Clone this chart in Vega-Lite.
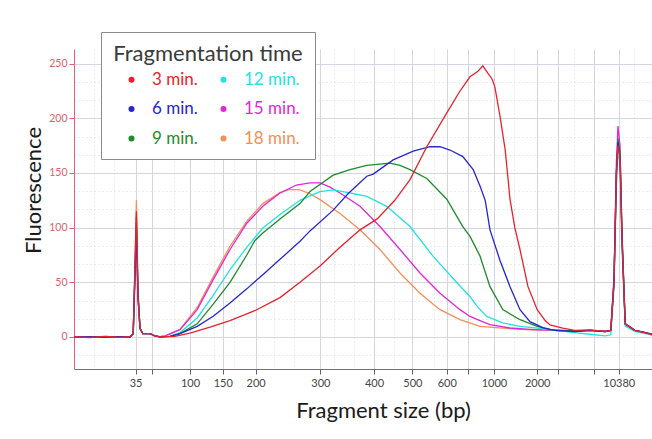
{
  "$schema": "https://vega.github.io/schema/vega-lite/v6.json",
  "width": 578,
  "height": 320,
  "autosize": "none",
  "padding": {"left": 74, "top": 49, "right": 0, "bottom": 70},
  "background": "white",
  "config": {"font": "Lato", "view": {"stroke": null}},
  "data": {"values": [
    {"s":"18 min.","t":40,"f":0.2},{"s":"18 min.","t":42,"f":-0.4},{"s":"18 min.","t":43.9,"f":0.5},{"s":"18 min.","t":45.8,"f":-0.2},{"s":"18 min.","t":47,"f":0.4},{"s":"18 min.","t":47.4,"f":3},{"s":"18 min.","t":47.6,"f":62},{"s":"18 min.","t":47.8,"f":125},{"s":"18 min.","t":48,"f":44},{"s":"18 min.","t":48.25,"f":8},{"s":"18 min.","t":48.6,"f":3},{"s":"18 min.","t":49.5,"f":3},{"s":"18 min.","t":50.1,"f":1},{"s":"18 min.","t":50.75,"f":0.2},{"s":"18 min.","t":51.4,"f":1},{"s":"18 min.","t":53.25,"f":7},{"s":"18 min.","t":55.4,"f":27},{"s":"18 min.","t":57.4,"f":55},{"s":"18 min.","t":59.5,"f":83},{"s":"18 min.","t":61.6,"f":106},{"s":"18 min.","t":63.6,"f":122},{"s":"18 min.","t":65.75,"f":132},{"s":"18 min.","t":67,"f":135},{"s":"18 min.","t":68.25,"f":134.5},{"s":"18 min.","t":69.5,"f":131},{"s":"18 min.","t":70.75,"f":125.6},{"s":"18 min.","t":73.25,"f":113},{"s":"18 min.","t":75.75,"f":98},{"s":"18 min.","t":78.25,"f":80},{"s":"18 min.","t":80.75,"f":58.5},{"s":"18 min.","t":83.25,"f":40},{"s":"18 min.","t":85.75,"f":25},{"s":"18 min.","t":88.25,"f":15.8},{"s":"18 min.","t":90.75,"f":9.7},{"s":"18 min.","t":93.6,"f":8},{"s":"18 min.","t":97,"f":6.5},{"s":"18 min.","t":100.1,"f":6},{"s":"18 min.","t":102.6,"f":5},{"s":"18 min.","t":104.5,"f":6},{"s":"18 min.","t":106.4,"f":5},{"s":"18 min.","t":107.1,"f":6},{"s":"18 min.","t":107.5,"f":50},{"s":"18 min.","t":107.8,"f":140},{"s":"18 min.","t":108,"f":170},{"s":"18 min.","t":108.25,"f":160},{"s":"18 min.","t":108.5,"f":85},{"s":"18 min.","t":108.9,"f":12},{"s":"18 min.","t":110.1,"f":6},{"s":"18 min.","t":111.4,"f":4},{"s":"18 min.","t":112.25,"f":2},

    {"s":"15 min.","t":40,"f":0.3},{"s":"15 min.","t":42,"f":-0.3},{"s":"15 min.","t":43.9,"f":0.4},{"s":"15 min.","t":45.8,"f":-0.4},{"s":"15 min.","t":47,"f":0.3},{"s":"15 min.","t":47.4,"f":3},{"s":"15 min.","t":47.6,"f":55},{"s":"15 min.","t":47.8,"f":110},{"s":"15 min.","t":48,"f":38},{"s":"15 min.","t":48.25,"f":8},{"s":"15 min.","t":48.6,"f":3},{"s":"15 min.","t":49.5,"f":3},{"s":"15 min.","t":50.1,"f":1},{"s":"15 min.","t":50.75,"f":0.2},{"s":"15 min.","t":51.4,"f":1},{"s":"15 min.","t":53.25,"f":6.7},{"s":"15 min.","t":55.4,"f":25},{"s":"15 min.","t":57.4,"f":52.4},{"s":"15 min.","t":59.5,"f":80},{"s":"15 min.","t":61.6,"f":104},{"s":"15 min.","t":63.6,"f":119.5},{"s":"15 min.","t":65.75,"f":131.7},{"s":"15 min.","t":67.8,"f":139},{"s":"15 min.","t":69.5,"f":141},{"s":"15 min.","t":70.75,"f":141},{"s":"15 min.","t":72,"f":137},{"s":"15 min.","t":73.25,"f":131.7},{"s":"15 min.","t":75.75,"f":119.5},{"s":"15 min.","t":78.25,"f":101},{"s":"15 min.","t":80.75,"f":80},{"s":"15 min.","t":83.25,"f":58.5},{"s":"15 min.","t":85.75,"f":40},{"s":"15 min.","t":88.25,"f":25},{"s":"15 min.","t":89.5,"f":18.8},{"s":"15 min.","t":90.75,"f":15},{"s":"15 min.","t":92,"f":11.3},{"s":"15 min.","t":94.5,"f":8.2},{"s":"15 min.","t":97,"f":7},{"s":"15 min.","t":100.1,"f":6},{"s":"15 min.","t":102.6,"f":5},{"s":"15 min.","t":104.5,"f":6},{"s":"15 min.","t":106.4,"f":5},{"s":"15 min.","t":107.1,"f":6},{"s":"15 min.","t":107.5,"f":55},{"s":"15 min.","t":107.8,"f":160},{"s":"15 min.","t":108,"f":193},{"s":"15 min.","t":108.25,"f":175},{"s":"15 min.","t":108.5,"f":95},{"s":"15 min.","t":108.9,"f":12},{"s":"15 min.","t":110.1,"f":6},{"s":"15 min.","t":111.4,"f":4},{"s":"15 min.","t":112.25,"f":2},

    {"s":"12 min.","t":40,"f":0},{"s":"12 min.","t":42,"f":0.4},{"s":"12 min.","t":43.9,"f":-0.3},{"s":"12 min.","t":45.8,"f":0.3},{"s":"12 min.","t":47,"f":0},{"s":"12 min.","t":47.4,"f":3},{"s":"12 min.","t":47.6,"f":50},{"s":"12 min.","t":47.8,"f":100},{"s":"12 min.","t":48,"f":35},{"s":"12 min.","t":48.25,"f":8},{"s":"12 min.","t":48.6,"f":3},{"s":"12 min.","t":49.5,"f":3},{"s":"12 min.","t":50.1,"f":1},{"s":"12 min.","t":50.75,"f":0},{"s":"12 min.","t":52,"f":0.8},{"s":"12 min.","t":53.25,"f":4},{"s":"12 min.","t":55.4,"f":17.4},{"s":"12 min.","t":57.4,"f":38},{"s":"12 min.","t":59.5,"f":61.6},{"s":"12 min.","t":61.6,"f":82},{"s":"12 min.","t":63.6,"f":99.7},{"s":"12 min.","t":65.75,"f":112},{"s":"12 min.","t":68.25,"f":125},{"s":"12 min.","t":69.5,"f":129},{"s":"12 min.","t":70.75,"f":133},{"s":"12 min.","t":72.4,"f":134.5},{"s":"12 min.","t":73.6,"f":133},{"s":"12 min.","t":75,"f":131},{"s":"12 min.","t":76.6,"f":128.6},{"s":"12 min.","t":79.1,"f":119.5},{"s":"12 min.","t":82,"f":101},{"s":"12 min.","t":84.9,"f":73.7},{"s":"12 min.","t":87.9,"f":49.4},{"s":"12 min.","t":89.5,"f":37},{"s":"12 min.","t":90.4,"f":28},{"s":"12 min.","t":91.6,"f":18.8},{"s":"12 min.","t":93.6,"f":12.8},{"s":"12 min.","t":95.75,"f":9.7},{"s":"12 min.","t":97.9,"f":8},{"s":"12 min.","t":100.1,"f":6},{"s":"12 min.","t":102.6,"f":4},{"s":"12 min.","t":104.5,"f":2.5},{"s":"12 min.","t":106.4,"f":1},{"s":"12 min.","t":107.1,"f":2},{"s":"12 min.","t":107.5,"f":45},{"s":"12 min.","t":107.8,"f":140},{"s":"12 min.","t":108,"f":172},{"s":"12 min.","t":108.25,"f":160},{"s":"12 min.","t":108.5,"f":85},{"s":"12 min.","t":108.9,"f":10},{"s":"12 min.","t":110.1,"f":5},{"s":"12 min.","t":111.4,"f":3},{"s":"12 min.","t":112.25,"f":2},

    {"s":"9 min.","t":40,"f":-0.2},{"s":"9 min.","t":42,"f":0.3},{"s":"9 min.","t":43.9,"f":0},{"s":"9 min.","t":45.8,"f":0.4},{"s":"9 min.","t":47,"f":-0.2},{"s":"9 min.","t":47.4,"f":3},{"s":"9 min.","t":47.6,"f":52},{"s":"9 min.","t":47.8,"f":105},{"s":"9 min.","t":48,"f":36},{"s":"9 min.","t":48.25,"f":8},{"s":"9 min.","t":48.6,"f":3},{"s":"9 min.","t":49.5,"f":3},{"s":"9 min.","t":50.1,"f":1},{"s":"9 min.","t":50.75,"f":0},{"s":"9 min.","t":52,"f":0.5},{"s":"9 min.","t":53.25,"f":3},{"s":"9 min.","t":55.4,"f":12},{"s":"9 min.","t":57.4,"f":30},{"s":"9 min.","t":59.5,"f":50},{"s":"9 min.","t":61.6,"f":75},{"s":"9 min.","t":62.6,"f":88},{"s":"9 min.","t":63.6,"f":95},{"s":"9 min.","t":65.75,"f":108},{"s":"9 min.","t":68.25,"f":122},{"s":"9 min.","t":69.5,"f":133},{"s":"9 min.","t":72.4,"f":148},{"s":"9 min.","t":74.5,"f":153},{"s":"9 min.","t":76.6,"f":157},{"s":"9 min.","t":79.5,"f":159},{"s":"9 min.","t":80.75,"f":157},{"s":"9 min.","t":82,"f":153},{"s":"9 min.","t":84.1,"f":145},{"s":"9 min.","t":86.6,"f":126},{"s":"9 min.","t":88.6,"f":101},{"s":"9 min.","t":89.5,"f":92},{"s":"9 min.","t":90.75,"f":74},{"s":"9 min.","t":92,"f":46},{"s":"9 min.","t":93.6,"f":25},{"s":"9 min.","t":95.75,"f":15.8},{"s":"9 min.","t":97.9,"f":9.7},{"s":"9 min.","t":99.5,"f":6.7},{"s":"9 min.","t":102.6,"f":5.5},{"s":"9 min.","t":104.5,"f":6},{"s":"9 min.","t":106.4,"f":5},{"s":"9 min.","t":107.1,"f":6},{"s":"9 min.","t":107.5,"f":50},{"s":"9 min.","t":107.8,"f":150},{"s":"9 min.","t":108,"f":182},{"s":"9 min.","t":108.25,"f":170},{"s":"9 min.","t":108.5,"f":95},{"s":"9 min.","t":108.9,"f":12},{"s":"9 min.","t":110.1,"f":6},{"s":"9 min.","t":111.4,"f":4},{"s":"9 min.","t":112.25,"f":2.5},

    {"s":"6 min.","t":40,"f":0},{"s":"6 min.","t":42,"f":0.3},{"s":"6 min.","t":43.9,"f":-0.3},{"s":"6 min.","t":45.8,"f":0.4},{"s":"6 min.","t":47,"f":0},{"s":"6 min.","t":47.4,"f":3},{"s":"6 min.","t":47.6,"f":50},{"s":"6 min.","t":47.8,"f":100},{"s":"6 min.","t":48,"f":37},{"s":"6 min.","t":48.25,"f":8},{"s":"6 min.","t":48.6,"f":3},{"s":"6 min.","t":49.5,"f":3},{"s":"6 min.","t":50.1,"f":1},{"s":"6 min.","t":50.75,"f":0},{"s":"6 min.","t":52,"f":0.5},{"s":"6 min.","t":53.25,"f":3},{"s":"6 min.","t":55.4,"f":9.7},{"s":"6 min.","t":57.4,"f":19},{"s":"6 min.","t":59.5,"f":31},{"s":"6 min.","t":61.6,"f":44},{"s":"6 min.","t":63.6,"f":57},{"s":"6 min.","t":65.75,"f":71},{"s":"6 min.","t":68.25,"f":87.5},{"s":"6 min.","t":69.5,"f":97},{"s":"6 min.","t":72.4,"f":116},{"s":"6 min.","t":74.25,"f":131},{"s":"6 min.","t":76.6,"f":147},{"s":"6 min.","t":77.4,"f":149},{"s":"6 min.","t":79.9,"f":162},{"s":"6 min.","t":82.4,"f":170},{"s":"6 min.","t":84.5,"f":174},{"s":"6 min.","t":85.75,"f":174},{"s":"6 min.","t":87,"f":171},{"s":"6 min.","t":88.6,"f":165},{"s":"6 min.","t":89.9,"f":153},{"s":"6 min.","t":90.75,"f":138},{"s":"6 min.","t":91.4,"f":125},{"s":"6 min.","t":92,"f":98},{"s":"6 min.","t":93.25,"f":70},{"s":"6 min.","t":94.5,"f":46},{"s":"6 min.","t":95.75,"f":25},{"s":"6 min.","t":97,"f":14},{"s":"6 min.","t":98.6,"f":8.5},{"s":"6 min.","t":100.1,"f":6},{"s":"6 min.","t":102.6,"f":5},{"s":"6 min.","t":104.5,"f":6},{"s":"6 min.","t":106.4,"f":5},{"s":"6 min.","t":107.1,"f":6},{"s":"6 min.","t":107.5,"f":50},{"s":"6 min.","t":107.8,"f":150},{"s":"6 min.","t":108,"f":178},{"s":"6 min.","t":108.25,"f":165},{"s":"6 min.","t":108.5,"f":90},{"s":"6 min.","t":108.9,"f":12},{"s":"6 min.","t":110.1,"f":6},{"s":"6 min.","t":111.4,"f":4},{"s":"6 min.","t":112.25,"f":2.5},

    {"s":"3 min.","t":40,"f":0.3},{"s":"3 min.","t":42,"f":-0.5},{"s":"3 min.","t":43.9,"f":0.5},{"s":"3 min.","t":45.8,"f":-0.3},{"s":"3 min.","t":47,"f":0.5},{"s":"3 min.","t":47.4,"f":3},{"s":"3 min.","t":47.6,"f":58},{"s":"3 min.","t":47.8,"f":115},{"s":"3 min.","t":48,"f":40},{"s":"3 min.","t":48.25,"f":8},{"s":"3 min.","t":48.6,"f":3},{"s":"3 min.","t":49.5,"f":3},{"s":"3 min.","t":50.1,"f":1},{"s":"3 min.","t":50.75,"f":0},{"s":"3 min.","t":52.6,"f":0.5},{"s":"3 min.","t":54.5,"f":3.5},{"s":"3 min.","t":57,"f":9},{"s":"3 min.","t":59.5,"f":15},{"s":"3 min.","t":62.6,"f":24},{"s":"3 min.","t":65.75,"f":36},{"s":"3 min.","t":68.25,"f":50},{"s":"3 min.","t":70.75,"f":65},{"s":"3 min.","t":73.25,"f":82},{"s":"3 min.","t":75.75,"f":98},{"s":"3 min.","t":77.9,"f":108},{"s":"3 min.","t":80.1,"f":125},{"s":"3 min.","t":82,"f":144},{"s":"3 min.","t":84.1,"f":174},{"s":"3 min.","t":86.6,"f":205},{"s":"3 min.","t":88.25,"f":225},{"s":"3 min.","t":89.5,"f":238},{"s":"3 min.","t":90.5,"f":243},{"s":"3 min.","t":91.1,"f":248},{"s":"3 min.","t":91.75,"f":241},{"s":"3 min.","t":92.25,"f":236},{"s":"3 min.","t":92.6,"f":229},{"s":"3 min.","t":93.25,"f":202},{"s":"3 min.","t":93.9,"f":171},{"s":"3 min.","t":94.5,"f":126},{"s":"3 min.","t":95.1,"f":100},{"s":"3 min.","t":95.75,"f":80},{"s":"3 min.","t":96.75,"f":46},{"s":"3 min.","t":97.9,"f":25},{"s":"3 min.","t":98.9,"f":15},{"s":"3 min.","t":99.5,"f":11},{"s":"3 min.","t":101.1,"f":8},{"s":"3 min.","t":102.6,"f":6},{"s":"3 min.","t":104.5,"f":6.5},{"s":"3 min.","t":106.4,"f":5},{"s":"3 min.","t":107.1,"f":6},{"s":"3 min.","t":107.5,"f":50},{"s":"3 min.","t":107.8,"f":150},{"s":"3 min.","t":108,"f":175},{"s":"3 min.","t":108.25,"f":165},{"s":"3 min.","t":108.5,"f":90},{"s":"3 min.","t":108.9,"f":12},{"s":"3 min.","t":110.1,"f":6},{"s":"3 min.","t":111.4,"f":4},{"s":"3 min.","t":112.25,"f":2}
  ]},
  "mark": {"type": "line", "strokeWidth": 1.3, "clip": true},
  "encoding": {
    "x": {
      "field": "t", "type": "quantitative",
      "scale": {"domain": [40, 112.25], "nice": false, "zero": false},
      "axis": {
        "title": "Fragment size (bp)",
        "titleFontSize": 22, "titleFontWeight": "normal", "titleColor": "#1a1a1a",
        "titleX": 309, "titleY": 48, "titleBaseline": "alphabetic", "titleAlign": "center",
        "values": [42.5,45,47.7,49.8,52.5,54.5,57.5,58.6,60,62.7,65,67.5,70.8,72.5,75,77.5,80,82.3,85,86.6,89.2,92.5,95,97.9,100.5,102.5,105,108.1,110],
        "labelExpr": "indexof([47.7,54.5,58.6,62.7,70.8,77.5,82.3,86.6,92.5,97.9,108.1], datum.value) >= 0 ? ['35','100','150','200','300','400','500','600','1000','2000','10380'][indexof([47.7,54.5,58.6,62.7,70.8,77.5,82.3,86.6,92.5,97.9,108.1], datum.value)] : ''",
        "labelFontSize": 11, "labelColor": "#444444", "labelPadding": 3, "labelFlush": false, "labelOverlap": false,
        "domainColor": "#707070", "tickColor": "#606060", "tickSize": 5,
        "tickOpacity": {"condition": {"test": "indexof([47.7,49.8,54.5,58.6,62.7,70.8,77.5,82.3,86.6,89.2,92.5,97.9,100.5,105,108.1], datum.value) < 0", "value": 0}, "value": 1},
        "grid": true,
        "gridColor": {"condition": {"test": "indexof([47.7,49.8,54.5,58.6,62.7,70.8,77.5,82.3,86.6,89.2,92.5,97.9,100.5,105,108.1], datum.value) < 0", "value": "#d6d6e0"}, "value": "#d4d4e2"},
        "gridDash": {"condition": {"test": "indexof([47.7,49.8,54.5,58.6,62.7,70.8,77.5,82.3,86.6,89.2,92.5,97.9,100.5,105,108.1], datum.value) < 0", "value": [1, 3]}, "value": []}
      }
    },
    "y": {
      "field": "f", "type": "quantitative",
      "scale": {"domain": [-29.3, 263.4], "nice": false, "zero": false},
      "axis": {
        "title": "Fluorescence",
        "titleFontSize": 22, "titleFontWeight": "normal", "titleColor": "#1a1a1a",
        "titleX": -41, "titleY": 141, "titleAngle": -90, "titleAlign": "center", "titleBaseline": "middle",
        "values": [-16.67,0,16.67,33.33,50,66.67,83.33,100,116.67,133.33,150,166.67,183.33,200,216.67,233.33,250],
        "labelExpr": "datum.value % 50 == 0 ? datum.label : ''",
        "labelFontSize": 10.5, "labelColor": "#e0606a", "labelPadding": 2,
        "domainColor": "#e06070", "tickColor": "#e06070", "tickSize": 5,
        "tickOpacity": {"condition": {"test": "datum.value % 50 != 0", "value": 0}, "value": 1},
        "grid": true,
        "gridColor": {"condition": {"test": "datum.value % 50 != 0", "value": "#d6d6e0"}, "value": "#d4d4e2"},
        "gridDash": {"condition": {"test": "datum.value % 50 != 0", "value": [1, 3]}, "value": []}
      }
    },
    "color": {
      "field": "s", "type": "nominal",
      "scale": {
        "domain": ["3 min.", "6 min.", "9 min.", "12 min.", "15 min.", "18 min."],
        "range": ["#e8222c", "#2626d0", "#1f8a2a", "#22e2e2", "#e027d8", "#f29056"]
      },
      "legend": {
        "title": "Fragmentation time", "titleLimit": 400, "labelLimit": 200,
        "orient": "none", "legendX": 27, "legendY": -17,
        "columns": 2, "columnPadding": 11, "rowPadding": 11.5,
        "fillColor": "white", "strokeColor": "#8a8a8a", "padding": 12,
        "titleFontSize": 22, "titleFontWeight": "normal", "titleColor": "#3a3a3a", "titleAnchor": "middle", "titlePadding": 5,
        "labelFontSize": 17, "labelOffset": 12, "symbolOffset": 6,
        "symbolType": "circle", "symbolSize": 36, "symbolStrokeWidth": 0,
        "encode": {
          "labels": {"update": {"fill": {"scale": "color", "field": "value"}}},
          "symbols": {"update": {"fill": {"scale": "color", "field": "value"}, "fillOpacity": {"value": 1}, "opacity": {"value": 1}}}
        }
      }
    }
  }
}
